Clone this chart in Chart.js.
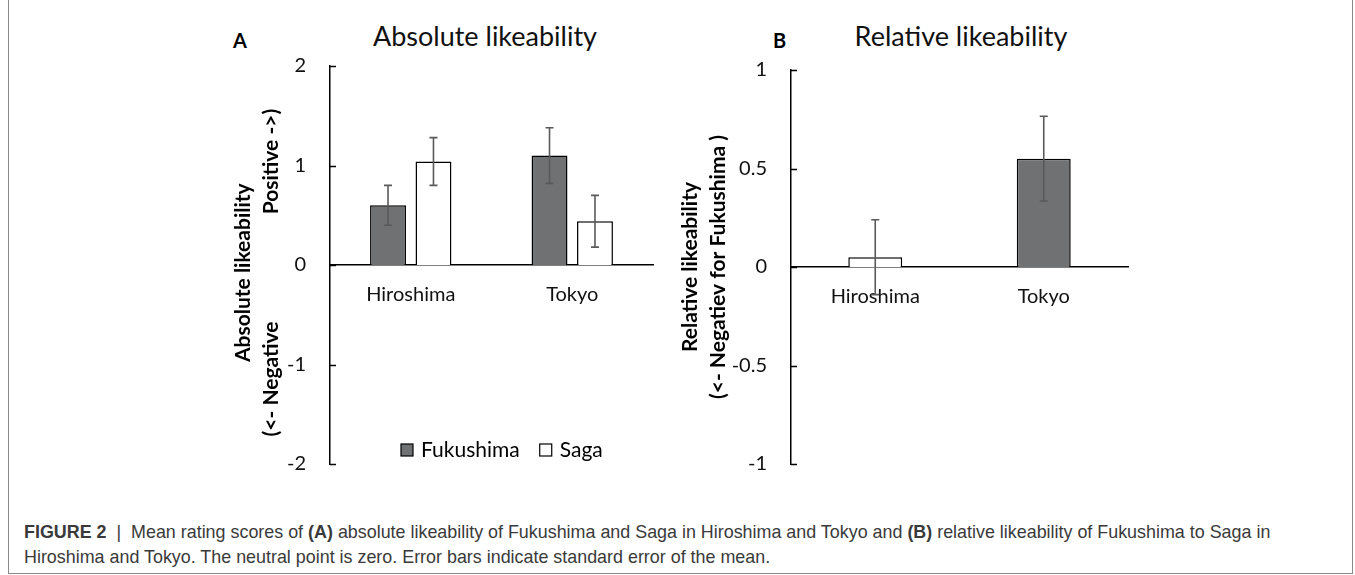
<!DOCTYPE html>
<html>
<head>
<meta charset="utf-8">
<script src="https://cdn.jsdelivr.net/npm/chart.js@4.4.1/dist/chart.umd.min.js"></script>
<style>
  body { margin: 0; background: #fff; width: 1355px; height: 575px; overflow: hidden; position: relative; font-family: Lato, sans-serif; }
  .frame { position: absolute; left: 8px; top: -4px; width: 1343px; height: 576px; border: 1px solid #8a8a8a; }
  .panel { position: absolute; top: 0; height: 500px; }
  #panelA { left: 200px; width: 470px; }
  #panelB { left: 660px; width: 490px; }
  .ptitle { position: absolute; top: 20px; font-size: 27px; line-height: 32px; color: #111; transform: translateX(-50%); white-space: nowrap; }
  .letter { position: absolute; top: 28px; font-size: 20px; line-height: 24px; font-weight: bold; color: #000; }
  .caption { position: absolute; left: 24px; top: 520px; font-family: "Liberation Sans", Arial, sans-serif; font-size: 17.9px; line-height: 25px; color: #3a3a3a; white-space: nowrap; }
</style>
</head>
<body>
<div class="frame"></div>
<div class="letter" style="left:233px">A</div>
<div class="ptitle" style="left:485px">Absolute likeability</div>
<div class="letter" style="left:773px">B</div>
<div class="ptitle" style="left:961px">Relative likeability</div>
<div class="panel" id="panelA"><canvas id="chartA"></canvas></div>
<div class="panel" id="panelB"><canvas id="chartB"></canvas></div>
<div class="caption"><b>FIGURE 2</b> &nbsp;|&nbsp; Mean rating scores of <b>(A)</b> absolute likeability of Fukushima and Saga in Hiroshima and Tokyo and <b>(B)</b> relative likeability of Fukushima to Saga in<br>Hiroshima and Tokyo. The neutral point is zero. Error bars indicate standard error of the mean.</div>
<script>
// Categories
const cities = ['Hiroshima', 'Tokyo'];

// Panel A: absolute likeability (mean, SE)
const absFukushima = [0.60, 1.10];
const absFukushimaErr = [0.20, 0.28];
const absSaga = [1.04, 0.44];
const absSagaErr = [0.24, 0.26];

// Panel B: relative likeability of Fukushima to Saga (mean, SE)
const relLike = [0.05, 0.55];
const relLikeErr = [0.19, 0.215];
const relColors = ['#ffffff', '#6f7173'];

// Axis ranges [min, max, step]
const absAxis = [-2, 2, 1];
const relAxis = [-1, 1, 0.5];

const GREY = '#6f7173';
const FONT = 'Lato, sans-serif';

// error bars drawn from dataset.errors
const errorBars = {
    id: 'errorBars',
    afterDatasetsDraw(chart) {
        const ctx = chart.ctx;
        const y = chart.scales.y;
        chart.data.datasets.forEach((ds, i) => {
            if (!ds.errors) return;
            chart.getDatasetMeta(i).data.forEach((bar, j) => {
                const v = ds.data[j], e = ds.errors[j];
                const top = y.getPixelForValue(v + e);
                const bot = y.getPixelForValue(v - e);
                ctx.save();
                ctx.strokeStyle = '#5a5a5a';
                ctx.lineWidth = 1.6;
                ctx.beginPath();
                ctx.moveTo(bar.x, top); ctx.lineTo(bar.x, bot);
                ctx.moveTo(bar.x - 4, top); ctx.lineTo(bar.x + 4, top);
                ctx.moveTo(bar.x - 4, bot); ctx.lineTo(bar.x + 4, bot);
                ctx.stroke();
                ctx.restore();
            });
        });
    }
};

// tick marks pointing into the plot, like the original
const innerTicks = {
    id: 'innerTicks',
    afterDraw(chart) {
        const ctx = chart.ctx;
        const y = chart.scales.y;
        const left = chart.chartArea.left;
        ctx.save();
        ctx.strokeStyle = '#000';
        ctx.lineWidth = 1.5;
        y.ticks.forEach(t => {
            const py = Math.round(y.getPixelForValue(t.value)) + 0.5;
            ctx.beginPath();
            ctx.moveTo(left, py);
            ctx.lineTo(left + 6, py);
            ctx.stroke();
        });
        ctx.restore();
    }
};

// legend inside the plot area (panel A)
const boxLegend = {
    id: 'boxLegend',
    afterDraw(chart, args, opts) {
        if (!opts.show) return;
        const ctx = chart.ctx;
        let x = opts.x;
        const y = opts.y;
        ctx.save();
        ctx.font = '21px ' + FONT;
        ctx.textBaseline = 'middle';
        chart.data.datasets.forEach(ds => {
            ctx.fillStyle = ds.backgroundColor;
            ctx.fillRect(x, y - 6, 12, 12);
            ctx.strokeStyle = '#000';
            ctx.lineWidth = 1.2;
            ctx.strokeRect(x, y - 6, 12, 12);
            ctx.fillStyle = '#000';
            ctx.fillText(ds.label, x + 20, y);
            x += 20 + ctx.measureText(ds.label).width + 20;
        });
        ctx.restore();
    }
};

function makeOptions(range, yWidth, pad, titleText, titlePad) {
    return {
        responsive: false,
        animation: false,
        layout: { padding: pad },
        plugins: {
            legend: { display: false },
            tooltip: { enabled: false },
            title: { display: false }
        },
        scales: {
            x: {
                position: { y: 0 },
                grid: { display: false, drawTicks: false },
                border: { display: true, color: '#000', width: 1.5 },
                ticks: { color: '#111', padding: 18, font: { family: FONT, size: 20 } }
            },
            y: {
                min: range[0],
                max: range[1],
                afterFit(scale) { scale.width = yWidth; },
                grid: { display: false, drawTicks: false },
                border: { display: true, color: '#000', width: 1.5 },
                ticks: {
                    stepSize: range[2], color: '#111', padding: 24,
                    font: { family: FONT, size: 20 },
                    callback: v => String(v)
                },
                title: {
                    display: true,
                    text: titleText,
                    color: '#000',
                    padding: { top: titlePad, bottom: 0 },
                    font: { family: FONT, size: 21, weight: 'bold', lineHeight: 1.33 }
                }
            }
        }
    };
}

function sizeCanvas(id, w, h) {
    const c = document.getElementById(id);
    c.width = w; c.height = h;
    c.style.width = w + 'px'; c.style.height = h + 'px';
    return c;
}

// Panel A
const optsA = makeOptions(absAxis, 130, { left: 0, right: 17, top: 66, bottom: 20 },
    ['Absolute likeability   ', '(<- Negative' + ' '.repeat(21) + 'Positive ->)   '], 29);
optsA.plugins.boxLegend = { show: true, x: 201, y: 450 };
new Chart(sizeCanvas('chartA', 470, 500), {
    type: 'bar',
    data: {
        labels: cities,
        datasets: [
            { label: 'Fukushima', data: absFukushima, errors: absFukushimaErr, backgroundColor: GREY,
              borderColor: '#000', borderWidth: 1.5, categoryPercentage: 0.563, barPercentage: 0.79 },
            { label: 'Saga', data: absSaga, errors: absSagaErr, backgroundColor: '#ffffff',
              borderColor: '#000', borderWidth: 1.5, categoryPercentage: 0.563, barPercentage: 0.79 }
        ]
    },
    options: optsA,
    plugins: [errorBars, innerTicks, boxLegend]
});

// Panel B
const optsB = makeOptions(relAxis, 131, { left: 0, right: 22, top: 70, bottom: 20 },
    ['Relative likeability', '(<- Negatiev for Fukushima )'], 16);
new Chart(sizeCanvas('chartB', 490, 500), {
    type: 'bar',
    data: {
        labels: cities,
        datasets: [
            { label: 'Fukushima - Saga', data: relLike, errors: relLikeErr, backgroundColor: relColors,
              borderColor: '#000', borderWidth: 1.5, categoryPercentage: 1, barPercentage: 0.32 }
        ]
    },
    options: optsB,
    plugins: [errorBars, innerTicks]
});
</script>
</body>
</html>
